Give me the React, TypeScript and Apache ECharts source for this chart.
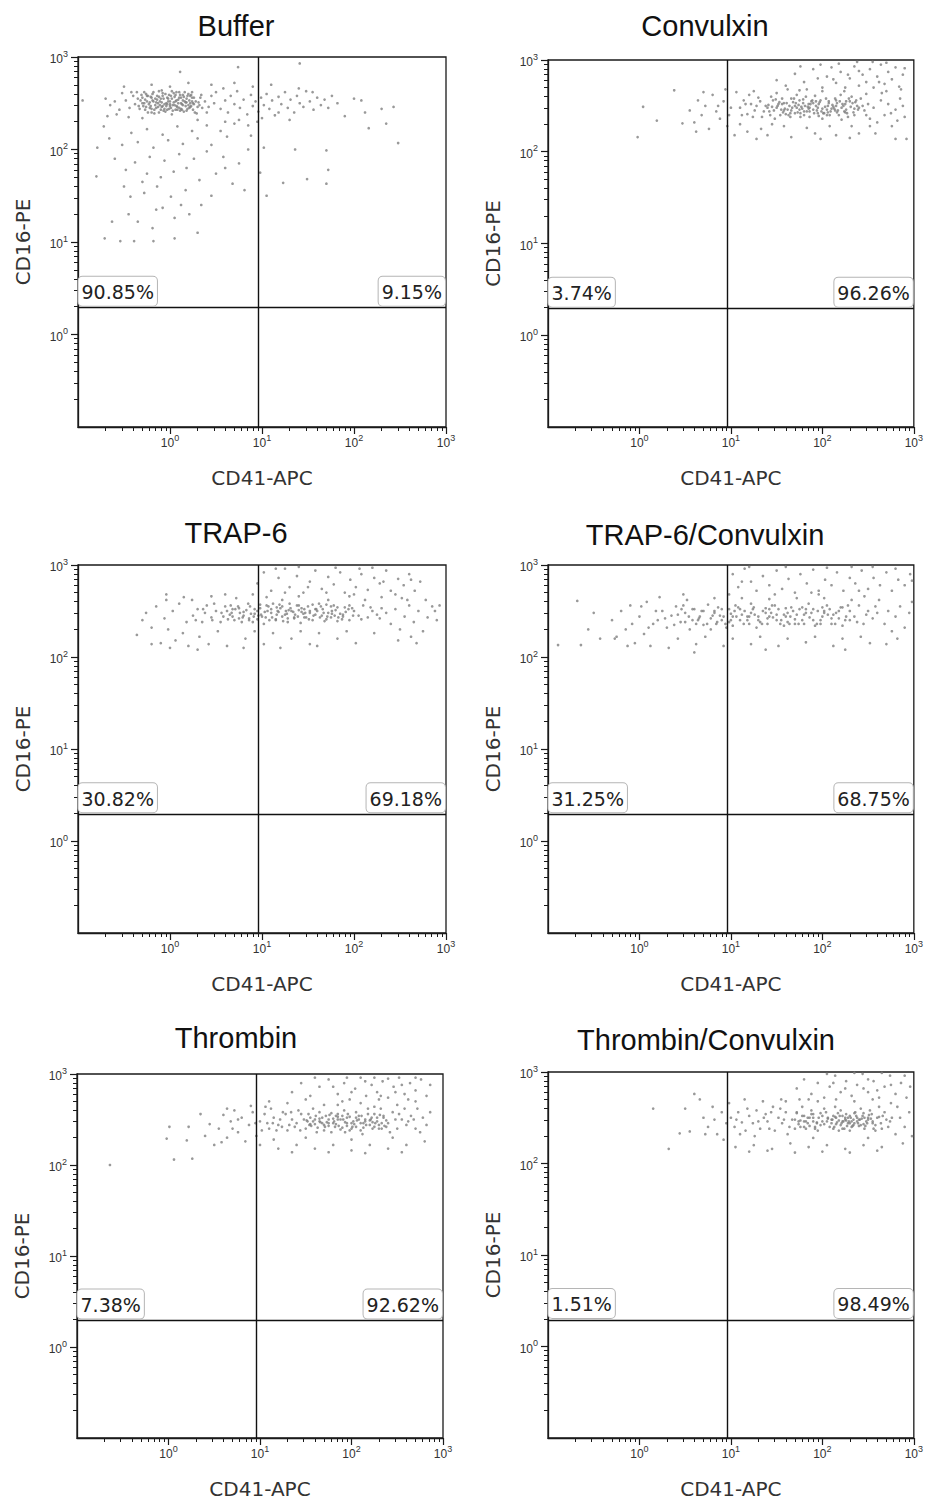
import React, { useEffect, useRef } from "react";
import * as echarts from "echarts";

// ---------- data ----------
const titles = ["Buffer", "Convulxin", "TRAP-6", "TRAP-6/Convulxin", "Thrombin", "Thrombin/Convulxin"];
const leftPct = ["90.85%", "3.74%", "30.82%", "31.25%", "7.38%", "1.51%"];
const rightPct = ["9.15%", "96.26%", "69.18%", "68.75%", "92.62%", "98.49%"];
const tickExponents = ["0", "1", "2", "3"];
const majorTicks = [1, 10, 100, 1000];
const minorTicks = [0.2, 0.3, 0.4, 0.5, 0.6, 0.7, 0.8, 0.9, 2, 3, 4, 5, 6, 7, 8, 9, 20, 30, 40, 50, 60, 70, 80, 90, 200, 300, 400, 500, 600, 700, 800, 900];
const axisMin = 0.1;
const axisMax = 1000;
const xGate = 9.05; // CD41-APC quadrant gate
const yGate = 1.95; // CD16-PE quadrant gate

// events, stored as flat pairs: [log10(CD41-APC)*100, log10(CD16-PE)*100, ...]
const bufferPts = [
  -30,250,-25,258,-20,244,-18,262,-15,251,-12,240,-10,255,-8,247,-5,260,-3,243,0,252,2,238,5,257,8,246,10,262,12,250,15,241,18,255,20,248,23,259,25,243,28,252,30,246,33,256,
  -33,244,-28,262,-22,251,-17,239,-14,258,-9,264,-6,249,-2,255,1,245,4,261,7,253,11,242,14,259,17,247,21,253,24,262,27,240,31,251,35,245,-35,255,-26,246,-21,257,-16,248,
  -11,252,-7,242,-4,250,-1,259,3,248,6,243,9,254,13,249,16,262,19,244,22,250,26,256,29,239,32,248,-31,259,-24,240,-19,253,-13,246,-8,258,-3,249,2,263,6,252,10,245,14,253,
  18,242,22,258,26,249,-27,254,-12,263,0,247,12,256,24,252,34,259,-38,249,-40,258,-44,245,-48,253,-42,262,38,252,42,246,45,258,48,250,40,240,
  -32,253,-29,247,-26,260,-23,249,-20,256,-17,243,-14,254,-11,248,-8,261,-6,244,-3,256,0,249,3,242,6,259,9,250,12,244,15,257,18,251,21,245,24,256,-34,247,-30,256,-27,243,
  -24,258,-21,247,-18,252,-15,245,-12,257,-9,251,-5,241,-2,252,1,258,4,251,7,247,10,256,13,243,16,252,19,258,22,246,-36,262,-28,250,-22,245,-16,255,-10,243,-4,247,2,255,
  8,243,14,248,20,260,25,250,-19,260,-13,250,-7,255,-1,244,5,248,11,259,17,251,23,247,-25,252,-9,246,7,262,-20,240,
  -60,252,-55,243,-52,261,-58,238,-65,248,-70,255,-68,236,-50,268,-45,235,50,262,55,244,60,253,63,240,66,258,70,249,73,263,76,245,80,254,84,238,88,259,90,247,93,252,96,241,
  99,256,102,248,105,260,108,244,111,253,114,237,118,257,121,249,125,262,128,245,131,254,135,240,138,258,141,250,145,246,148,263,152,252,156,243,160,256,164,248,168,254,
  172,245,176,258,182,250,190,236,200,255,212,240,230,244,235,228,60,230,75,232,90,268,110,270,85,226,130,232,45,270,20,272,0,268,-20,270,30,232,-30,234,70,272,100,234,
  140,266,58,266,118,240,155,262,
  -71,104,-54,101,-39,101,-18,101,5,104,30,110,-63,122,-45,130,-35,122,-19,115,-8,137,5,126,21,130,34,140,-43,149,-28,153,-14,160,1,149,17,156,32,167,50,174,68,163,81,156,
  -25,174,-10,170,4,176,18,180,-48,178,-60,190,-38,186,-22,192,-6,188,10,195,26,190,40,198,58,192,75,185,-52,205,-35,208,-18,202,-2,210,14,206,30,212,45,205,62,214,85,200,
  -42,218,-25,222,-8,216,8,225,24,220,40,226,55,220,-66,212,-72,225,70,228,88,215,-30,165,12,140,-50,160,45,150,60,180,-15,135,
  123,164,149,168,170,163,172,178,102,202,136,200,170,199,248,207,216,223,243,246,208,253,141,293,74,289,11,284,-95,253,-79,202,-80,171,98,175,105,150,95,230,
];
const convulxinPts = [
  110,248,114,256,118,241,122,252,126,245,130,259,134,238,138,250,142,244,146,256,150,248,154,240,158,253,162,246,166,258,170,242,174,251,178,247,182,260,186,238,190,253,
  194,245,198,256,202,242,206,250,210,247,214,258,218,240,222,252,226,246,230,255,234,243,238,250,242,258,246,245,250,252,112,240,120,262,128,250,136,244,144,260,152,252,
  160,241,168,254,176,238,184,249,192,261,200,247,208,240,216,253,224,244,232,260,240,248,248,240,116,252,124,238,132,255,140,248,148,236,156,258,164,250,172,262,180,244,
  188,255,196,239,204,258,212,249,220,262,228,238,236,254,244,250,252,236,158,245,165,238,172,248,179,253,186,244,193,250,200,236,207,255,214,245,221,235,185,252,175,256,
  195,242,205,246,215,250,225,252,235,240,170,250,180,240,190,246,
  141,251,147,245,153,254,159,247,165,242,171,253,177,249,183,244,189,256,195,248,201,242,207,253,213,247,219,255,225,243,231,249,237,256,143,240,149,257,155,246,161,253,
  167,248,173,243,179,257,185,247,191,242,197,254,203,249,209,244,215,256,221,248,227,242,233,253,239,246,145,249,157,243,169,258,181,250,193,255,205,240,217,245,229,258,
  151,250,163,240,175,246,187,252,199,244,211,251,223,250,235,247,186,248,196,252,176,242,206,243,166,245,226,255,216,243,156,252,
  55,245,60,232,64,256,68,240,72,250,76,225,80,262,84,244,88,236,92,255,96,228,100,248,104,218,106,265,110,230,118,222,125,266,133,225,140,218,150,264,158,228,166,216,
  175,267,183,226,192,220,200,266,208,228,215,218,224,266,232,228,240,220,248,263,256,248,260,232,264,256,268,240,272,252,276,228,280,246,285,258,290,238,258,220,265,264,
  62,222,70,265,94,268,128,214,145,230,162,268,198,214,230,215,252,228,270,266,275,242,282,234,288,250,98,240,86,250,
  160,272,170,285,180,276,190,290,200,270,205,282,210,292,215,275,220,287,225,270,230,280,235,293,240,272,244,284,248,276,252,290,256,270,260,282,264,295,268,274,272,287,
  276,279,280,292,284,271,288,284,150,278,176,293,195,280,218,296,238,298,262,276,240,288,228,284,212,279,198,295,183,268,290,291,286,268,255,298,270,297,
  4,249,19,234,-2,216,38,267,47,231,292,214,280,214,
];
const trapPts = [
  25,245,30,252,35,238,40,256,45,243,50,250,55,238,60,255,65,246,70,240,75,253,80,245,85,258,90,238,95,250,100,244,105,256,110,248,115,240,120,253,125,246,130,258,135,242,
  140,251,145,247,150,255,155,240,160,250,165,245,170,257,175,243,180,251,185,247,190,254,195,240,200,250,205,245,210,256,215,243,220,250,225,246,230,253,28,240,38,248,
  48,258,58,244,68,252,78,238,88,247,98,257,108,240,118,249,128,238,138,256,148,243,158,252,168,239,178,256,188,244,198,253,208,241,218,254,228,242,92,252,102,236,112,258,
  122,244,132,250,142,237,152,248,162,258,172,248,182,239,106,250,96,245,116,254,86,242,126,250,76,248,136,246,66,256,146,252,56,248,156,245,46,240,166,252,36,252,176,247,
  62,250,68,244,74,255,80,249,86,240,92,247,98,253,104,243,110,252,116,246,122,255,128,242,134,249,140,256,146,243,152,250,158,246,164,255,170,241,176,250,182,254,188,246,
  194,252,63,241,71,252,79,243,87,255,95,241,103,249,111,243,119,257,127,247,135,243,143,253,151,241,159,252,167,248,175,255,183,243,191,249,199,245,67,248,83,251,99,246,
  115,241,131,253,147,248,163,243,179,245,195,256,107,255,123,239,139,244,155,257,171,244,187,241,91,244,75,242,117,250,143,249,129,251,
  -36,224,-30,240,-26,248,-20,232,-15,255,-10,215,-6,242,-2,230,3,250,6,218,10,258,14,226,18,238,20,212,24,262,32,222,42,214,52,228,62,212,72,264,82,220,92,228,102,214,
  112,226,122,262,132,220,142,228,152,214,162,226,172,262,182,220,192,228,202,215,212,262,222,226,235,248,240,236,245,252,250,230,255,244,260,256,265,238,270,250,275,228,
  280,243,285,255,290,240,248,218,262,222,15,265,45,266,60,268,90,268,105,265,140,266,195,266,230,265,-20,214,0,210,30,208,80,210,120,210,160,212,258,262,278,262,268,215,
  252,264,-4,262,
  95,280,102,292,110,272,118,286,125,296,130,276,138,288,145,270,152,282,158,294,165,274,172,287,178,279,185,292,190,270,196,284,202,276,208,290,215,273,222,286,228,280,
  235,294,240,272,248,285,254,278,260,290,266,272,272,282,115,296,140,298,180,297,220,297,150,276,200,268,245,268,125,270,170,270,232,282,206,296,262,284,
  -4,268,293,256,288,250,
];
const trapConvPts = [
  20,240,25,250,30,232,35,245,40,255,45,238,50,248,55,230,60,252,65,242,70,235,75,257,80,245,85,238,90,252,95,232,100,247,105,256,110,240,115,250,120,236,125,254,130,244,
  135,250,140,236,145,256,150,246,155,240,160,253,165,244,170,236,175,252,180,246,185,258,190,240,195,250,200,244,205,256,210,236,215,248,220,254,225,240,230,250,235,244,
  240,256,245,236,250,250,255,242,260,248,28,242,38,235,48,256,58,240,68,250,78,230,88,245,98,238,108,254,118,244,128,232,138,248,148,256,158,234,168,250,178,240,188,248,
  198,236,208,252,218,242,228,256,238,238,248,246,258,255,82,250,92,244,102,234,112,246,122,258,132,238,142,244,152,252,162,238,172,246,182,252,192,234,202,248,212,246,
  222,234,
  42,246,50,238,58,252,66,244,74,236,82,248,90,240,98,252,106,244,114,236,122,248,130,240,138,253,146,243,154,236,162,248,170,241,178,254,186,243,194,236,202,250,210,242,
  218,250,226,244,46,252,54,244,62,236,70,250,78,242,86,254,94,236,102,244,110,252,118,240,126,246,134,236,142,252,150,240,158,246,166,254,174,236,182,248,190,252,198,240,
  206,246,214,236,222,254,230,240,100,240,120,244,140,242,160,244,180,236,200,254,64,240,84,236,104,250,124,252,144,248,164,236,
  -30,240,-25,222,-20,250,-15,230,-10,256,-5,215,0,244,5,225,8,260,12,212,15,236,18,250,22,265,32,210,42,220,52,262,62,214,72,222,82,264,92,212,102,220,112,264,122,214,
  132,222,142,263,152,212,162,220,172,264,182,216,192,222,202,264,212,212,222,220,232,262,242,222,252,215,262,262,268,236,272,250,276,228,280,244,285,255,290,232,295,248,
  298,260,270,214,282,220,48,268,98,268,148,268,196,268,246,266,-8,236,2,255,10,232,138,208,60,205,225,208,
  102,290,108,276,115,296,122,282,128,272,135,288,142,278,150,294,156,274,163,285,170,270,176,290,183,280,190,295,196,272,203,284,210,278,216,292,223,272,230,286,236,280,
  243,294,250,274,256,286,263,278,270,292,276,272,283,284,290,278,296,290,120,298,160,298,205,297,255,298,188,270,240,272,280,296,112,282,232,298,298,283,
  -68,261,-89,213,-64,213,-56,230,-50,248,-43,220,-27,220,-13,212,
];
const thrombinPts = [
  100,248,105,256,110,240,115,252,120,244,125,258,130,238,135,250,140,246,145,256,150,240,155,252,160,245,165,258,170,238,175,250,180,246,185,256,190,241,195,252,200,246,
  205,258,210,238,215,250,220,244,225,256,230,240,235,252,240,246,245,258,250,240,255,250,260,244,265,254,270,240,102,238,112,262,122,250,132,244,142,260,152,248,162,236,
  172,254,182,242,192,260,202,248,212,234,222,252,232,262,242,236,252,256,262,248,108,246,118,238,128,256,138,242,148,250,158,262,168,246,178,236,188,250,198,238,208,254,
  218,262,228,248,238,242,248,250,258,262,268,250,165,248,175,243,185,250,195,246,205,242,183,254,193,236,213,246,223,240,233,246,154,244,144,238,134,258,124,242,114,246,
  151,249,156,243,161,254,166,247,171,242,176,255,181,248,186,243,191,250,196,256,201,242,206,249,211,254,216,244,221,250,226,246,231,255,236,243,153,256,158,248,163,241,
  168,252,173,247,178,257,183,245,188,239,193,247,198,253,203,245,208,250,213,241,218,256,223,247,228,252,233,240,238,249,155,245,165,251,175,246,185,253,195,243,205,252,
  215,248,225,242,235,254,170,244,180,251,190,254,200,240,210,246,220,249,230,244,160,250,
  55,240,60,255,64,230,68,248,72,260,76,236,80,252,84,226,88,244,92,258,96,232,58,225,70,240,90,265,100,222,110,270,120,218,130,268,140,222,150,272,160,218,170,266,180,222,
  190,270,200,216,210,268,220,222,230,272,240,218,250,266,260,222,270,270,275,236,278,252,282,244,286,258,280,226,272,262,150,230,200,228,245,230,115,228,185,266,225,264,
  135,214,175,214,215,213,255,214,106,264,64,262,76,250,95,246,
  135,280,145,290,155,276,165,286,175,294,185,278,192,290,198,272,204,284,210,296,216,276,222,288,228,280,234,292,240,274,246,286,252,296,258,278,264,290,270,282,276,294,
  282,276,200,280,215,292,232,276,248,280,262,272,240,295,225,296,180,286,160,296,270,296,286,288,195,296,255,288,
  -64,200,1,242,22,242,-2,229,20,227,6,206,26,207,40,232,45,245,50,222,35,256,
];
const thrombinConvPts = [
  167,248,172,256,176,240,180,252,184,244,188,258,192,238,196,250,200,246,204,256,208,240,212,252,216,245,220,258,224,238,228,250,232,246,236,256,240,241,244,252,248,246,
  252,258,256,238,260,250,264,244,268,256,272,240,276,250,170,238,178,262,186,250,194,244,202,260,210,248,218,236,226,254,234,242,242,260,250,248,258,236,266,252,274,246,
  174,246,182,238,190,254,198,242,206,250,214,262,222,246,230,236,238,250,246,238,254,254,262,262,270,248,210,244,215,250,220,242,225,248,230,252,235,244,222,252,212,238,
  232,240,205,246,228,244,240,248,245,243,250,250,190,246,200,252,180,246,195,236,255,244,265,238,
  211,248,215,243,219,252,223,246,227,241,231,250,235,255,239,244,243,249,247,241,251,253,255,246,213,240,217,255,221,244,225,250,229,246,233,241,237,252,241,248,245,255,
  249,244,253,249,214,251,222,238,230,244,238,246,246,250,226,247,218,247,234,248,242,242,170,248,174,243,178,252,182,246,186,241,190,250,194,245,172,255,180,240,188,254,
  176,247,184,250,192,240,206,249,202,243,198,255,258,242,262,251,
  100,250,104,240,108,256,112,245,116,236,120,252,124,244,128,258,132,238,136,250,140,246,144,256,148,236,152,250,156,244,160,256,164,240,106,248,118,260,130,246,142,238,
  154,260,162,232,110,232,126,230,146,262,138,254,158,248,
  66,270,70,250,75,240,80,262,85,232,90,256,95,244,82,248,92,226,98,266,105,218,115,270,125,220,135,268,145,216,155,270,165,222,175,270,185,218,195,268,205,220,215,270,
  225,216,235,268,245,220,255,270,265,218,275,266,280,232,285,250,290,240,295,256,298,230,288,222,282,262,170,212,200,213,230,212,260,214,140,214,120,213,250,228,190,228,
  160,268,
  172,282,180,292,188,276,195,288,202,272,208,284,214,296,220,278,226,290,232,274,238,286,244,298,250,278,256,290,262,272,268,284,274,296,280,276,286,288,292,272,296,284,
  205,298,235,299,265,299,290,296,245,282,225,282,260,280,185,270,275,286,212,288,250,292,
  15,260,32,216,44,233,50,260,60,276,55,235,72,232,
];
const panelPoints = [bufferPts, convulxinPts, trapPts, trapConvPts, thrombinPts, thrombinConvPts];

// ---------- layout ----------
const grids = [
  { left: 78, top: 57, width: 368, height: 370 },
  { left: 548, top: 60, width: 366, height: 367 },
  { left: 78, top: 565, width: 368, height: 368 },
  { left: 548, top: 565, width: 366, height: 368 },
  { left: 77, top: 1074, width: 366, height: 364 },
  { left: 548, top: 1072, width: 367, height: 366 },
];
const titleCenters = [[236, 26], [705, 26], [236, 533], [705, 535], [236, 1038], [706, 1040]];

const AXIS_COLOR = "#1a1a1a";
const FONT_LABEL = "'DejaVu Sans', Verdana, sans-serif";
const FONT_TICK = "'Liberation Sans', Arial, sans-serif";

function toPoints(flat: number[]) {
  const out: number[][] = [];
  for (let i = 0; i + 1 < flat.length; i += 2) {
    out.push([Math.pow(10, flat[i] / 100), Math.pow(10, flat[i + 1] / 100)]);
  }
  return out;
}

function tickFormatter(v: number) {
  const e = Math.round(Math.log10(v));
  const sup = tickExponents[e];
  return sup === undefined ? "" : `{b|10}{s|${sup}}`;
}

const tickRich = {
  b: { fontFamily: FONT_TICK, fontSize: 12, color: "#333", lineHeight: 16, verticalAlign: "bottom" },
  s: { fontFamily: FONT_TICK, fontSize: 9, color: "#333", lineHeight: 16, verticalAlign: "top" },
};

function buildOption() {
  const xAxis: any[] = [];
  const yAxis: any[] = [];
  const series: any[] = [];
  grids.forEach((g, i) => {
    const common = { type: "log", logBase: 10, min: axisMin, max: axisMax, gridIndex: i, splitLine: { show: false } };
    xAxis.push({
      ...common,
      position: "bottom",
      name: "CD41-APC",
      nameLocation: "middle",
      nameGap: 41,
      nameTextStyle: { fontFamily: FONT_LABEL, fontSize: 20, color: "#333" },
      axisLine: { show: true, lineStyle: { color: AXIS_COLOR, width: 1.3 } },
      axisTick: { show: true, length: 7, customValues: majorTicks, lineStyle: { color: AXIS_COLOR, width: 1.2 } },
      axisLabel: { show: true, customValues: majorTicks, formatter: tickFormatter, margin: 6, rich: tickRich },
    });
    xAxis.push({
      ...common,
      position: "bottom",
      axisLine: { show: false },
      axisTick: { show: true, length: 4, customValues: minorTicks, lineStyle: { color: AXIS_COLOR, width: 1 } },
      axisLabel: { show: false },
    });
    yAxis.push({
      ...common,
      position: "left",
      name: "CD16-PE",
      nameLocation: "middle",
      nameGap: 45,
      nameRotate: 90,
      nameTextStyle: { fontFamily: FONT_LABEL, fontSize: 20, color: "#333" },
      axisLine: { show: true, lineStyle: { color: AXIS_COLOR, width: 1.3 } },
      axisTick: { show: true, length: 7, customValues: majorTicks, lineStyle: { color: AXIS_COLOR, width: 1.2 } },
      axisLabel: { show: true, customValues: majorTicks, formatter: tickFormatter, margin: 10, rich: tickRich },
    });
    yAxis.push({
      ...common,
      position: "left",
      axisLine: { show: false },
      axisTick: { show: true, length: 4, customValues: minorTicks, lineStyle: { color: AXIS_COLOR, width: 1 } },
      axisLabel: { show: false },
    });
    series.push({
      type: "scatter",
      name: titles[i],
      xAxisIndex: 2 * i,
      yAxisIndex: 2 * i,
      data: toPoints(panelPoints[i]),
      symbolSize: 2.7,
      itemStyle: { color: "#808080", opacity: 0.8 },
      silent: true,
      markLine: {
        silent: true,
        symbol: ["none", "none"],
        label: { show: false },
        lineStyle: { color: "#111", width: 1.4, type: "solid" },
        data: [{ xAxis: xGate }, { yAxis: yGate }],
      },
    });
  });
  return {
    animation: false,
    backgroundColor: "#ffffff",
    grid: grids.map((g) => ({ ...g, containLabel: false, show: true, borderColor: AXIS_COLOR, borderWidth: 1.3 })),
    xAxis,
    yAxis,
    series,
  };
}

export default function App() {
  const ref = useRef<HTMLDivElement>(null);
  useEffect(() => {
    if (!ref.current) return;
    const chart = echarts.init(ref.current, undefined, { renderer: "svg" });
    chart.setOption(buildOption() as any);
    const graphic: any[] = [];
    titles.forEach((t, i) => {
      graphic.push({
        type: "text",
        x: titleCenters[i][0],
        y: titleCenters[i][1],
        z: 20,
        style: { text: t, font: `29px ${FONT_TICK}`, fill: "#111", align: "center", verticalAlign: "middle" },
      });
      const pl = chart.convertToPixel({ seriesIndex: i }, [axisMin, yGate]) as number[];
      const pr = chart.convertToPixel({ seriesIndex: i }, [axisMax, yGate]) as number[];
      const boxStyle = {
        font: `19px ${FONT_LABEL}`,
        fill: "#222",
        backgroundColor: "#ffffff",
        borderColor: "#b5b5b5",
        borderWidth: 1,
        borderRadius: 4,
        padding: [6, 3, 4, 3],
        verticalAlign: "bottom",
      };
      graphic.push({ type: "text", x: pl[0] + 0.5, y: pl[1] - 2, z: 20, style: { ...boxStyle, text: leftPct[i], align: "left" } });
      graphic.push({ type: "text", x: pr[0] - 1, y: pr[1] - 2, z: 20, style: { ...boxStyle, text: rightPct[i], align: "right" } });
    });
    chart.setOption({ graphic });
    return () => chart.dispose();
  }, []);
  return <div ref={ref} style={{ position: "absolute", left: 0, top: 0, width: 926, height: 1502 }} />;
}
